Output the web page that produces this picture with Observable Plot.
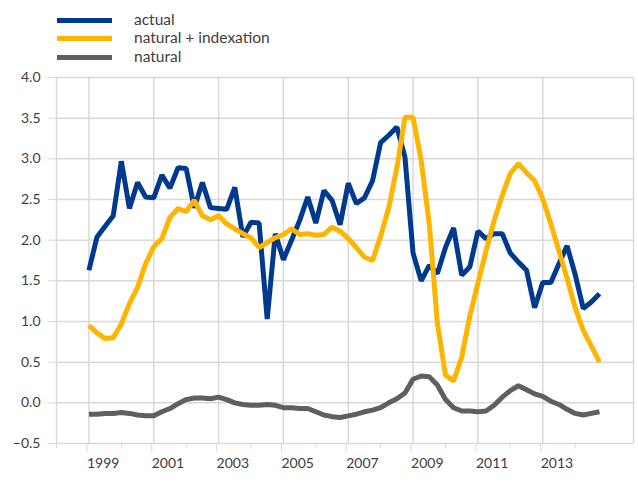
<!DOCTYPE html>
<html>
<head>
<meta charset="utf-8">
<script src="https://cdn.jsdelivr.net/npm/d3@7"></script>
<script src="https://cdn.jsdelivr.net/npm/@observablehq/plot@0.6"></script>
<style>
  html, body { margin: 0; padding: 0; background: #fff; }
  body { width: 638px; height: 486px; overflow: hidden; font-family: Lato, "Open Sans", sans-serif; color: #404040; }
  #legend { position: relative; height: 68px; }
  .sw { position: absolute; left: 57px; width: 55px; height: 5px; }
  .lb { position: absolute; left: 134px; font-size: 15.5px; line-height: 18px; white-space: nowrap; }
</style>
</head>
<body>
<div id="legend"></div>
<div id="chart"></div>
<script>
// Quarterly data, 1999 Q1 .. 2014 Q4 (64 quarters)
const startYear = 1999;
const seriesNames = ["actual", "natural + indexation", "natural"];
const seriesColors = ["#003A8F", "#FFB400", "#5F5F5F"];

const actual = [
  1.63, 2.04, 2.17, 2.30, 2.97, 2.39, 2.71, 2.53,
  2.52, 2.80, 2.64, 2.89, 2.88, 2.40, 2.71, 2.40,
  2.39, 2.38, 2.65, 2.04, 2.22, 2.21, 1.03, 2.08,
  1.76, 2.00, 2.24, 2.53, 2.21, 2.61, 2.49, 2.19,
  2.70, 2.45, 2.52, 2.73, 3.20, 3.29, 3.39, 3.02,
  1.84, 1.50, 1.69, 1.59, 1.91, 2.15, 1.57, 1.67,
  2.11, 2.02, 2.08, 2.08, 1.84, 1.73, 1.63, 1.17,
  1.48, 1.48, 1.71, 1.93, 1.58, 1.16, 1.24, 1.34
];
const naturalIndexation = [
  0.95, 0.86, 0.79, 0.80, 0.97, 1.22, 1.42, 1.71,
  1.92, 2.02, 2.28, 2.39, 2.35, 2.49, 2.30, 2.25,
  2.30, 2.20, 2.14, 2.08, 2.03, 1.91, 1.97, 2.03,
  2.07, 2.14, 2.07, 2.08, 2.06, 2.07, 2.16, 2.11,
  2.02, 1.91, 1.79, 1.75, 2.05, 2.40, 2.89, 3.51,
  3.51, 2.98, 2.20, 0.98, 0.34, 0.27, 0.56, 1.07,
  1.47, 1.87, 2.24, 2.55, 2.82, 2.94, 2.83, 2.73,
  2.51, 2.20, 1.87, 1.53, 1.17, 0.89, 0.70, 0.50
];
const natural = [
  -0.14, -0.14, -0.13, -0.13, -0.12, -0.13, -0.15, -0.16,
  -0.16, -0.11, -0.07, -0.01, 0.04, 0.06, 0.06, 0.05,
  0.07, 0.04, 0.00, -0.02, -0.03, -0.03, -0.02, -0.03,
  -0.06, -0.06, -0.07, -0.07, -0.11, -0.15, -0.17, -0.18,
  -0.16, -0.14, -0.11, -0.09, -0.06, 0.00, 0.05, 0.12,
  0.29, 0.33, 0.32, 0.22, 0.04, -0.06, -0.10, -0.10,
  -0.11, -0.10, -0.03, 0.07, 0.15, 0.21, 0.16, 0.11,
  0.08, 0.02, -0.02, -0.08, -0.13, -0.15, -0.13, -0.11
];
const yTicks = [-0.5, 0.0, 0.5, 1.0, 1.5, 2.0, 2.5, 3.0, 3.5, 4.0];
const xLabelYears = [1999, 2001, 2003, 2005, 2007, 2009, 2011, 2013];
const xMinorYears = [1998, 2000, 2002, 2004, 2006, 2008, 2010, 2012, 2014];

const seriesValues = [actual, naturalIndexation, natural];
const rows = seriesValues.flatMap((vals, s) =>
  vals.map((v, i) => ({ t: startYear + i / 4, v, s: seriesNames[s] }))
);

// Legend
const legend = document.getElementById("legend");
const rowsY = [20, 38, 57];
seriesNames.forEach((name, k) => {
  const sw = document.createElement("div");
  sw.className = "sw";
  sw.style.top = (rowsY[k] - 2.5) + "px";
  sw.style.background = seriesColors[k];
  legend.appendChild(sw);
  const lb = document.createElement("div");
  lb.className = "lb";
  lb.style.top = (rowsY[k] - 10) + "px";
  lb.textContent = name;
  legend.appendChild(lb);
});

const xDomain = [1998, 2015.8];
const grid = "#d9d9d9";

const chart = Plot.plot({
  width: 638,
  height: 418,
  marginTop: 9,
  marginBottom: 43,
  marginLeft: 56,
  marginRight: 5,
  style: { fontFamily: "Lato, 'Open Sans', sans-serif", fontSize: "14px", color: "#404040", background: "#fff" },
  x: { domain: xDomain, axis: null },
  y: { domain: [-0.5, 4.0], axis: null },
  color: { domain: seriesNames, range: seriesColors },
  marks: [
    Plot.gridY(yTicks, { stroke: grid, strokeOpacity: 1, strokeWidth: 1.5 }),
    Plot.gridX(xLabelYears, { stroke: grid, strokeOpacity: 1, strokeWidth: 1.5 }),
    Plot.ruleX(xDomain, { stroke: grid, strokeWidth: 1.5 }),
    Plot.axisY(yTicks, { label: null, tickSize: 8, tickPadding: 8, stroke: grid, strokeOpacity: 1, fill: "#404040", tickFormat: d3.format(".1f") }),
    Plot.axisX(xLabelYears, { label: null, tickSize: 9, tickPadding: 6, stroke: grid, strokeOpacity: 1, fill: "#404040", tickFormat: d => String(d), textAnchor: "start", dx: -2 }),
    Plot.axisX(xMinorYears, { label: null, tickSize: 5, stroke: grid, strokeOpacity: 1, tickFormat: () => "" }),
    Plot.line(rows, { x: "t", y: "v", z: "s", stroke: "s", strokeWidth: 5, strokeLinejoin: "miter", strokeLinecap: "butt" })
  ]
});
document.getElementById("chart").appendChild(chart);
</script>
</body>
</html>
